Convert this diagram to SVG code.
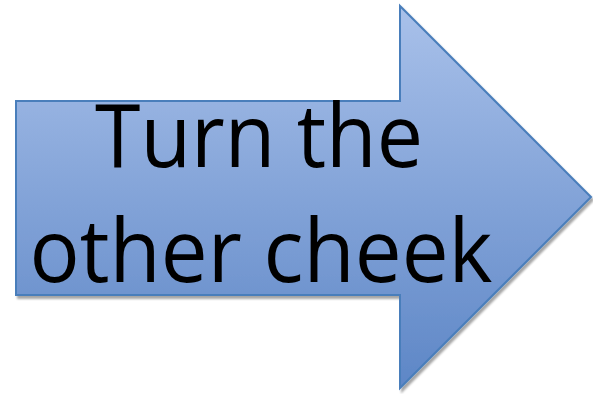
<svg xmlns="http://www.w3.org/2000/svg" width="593" height="394" viewBox="0 0 593 394">
<defs>
<linearGradient id="g" x1="0" y1="5" x2="0" y2="390" gradientUnits="userSpaceOnUse">
<stop offset="0" stop-color="#a9c1ea"/>
<stop offset="1" stop-color="#5d86c6"/>
</linearGradient>
<filter id="sh" x="-5%" y="-5%" width="110%" height="110%">
<feGaussianBlur in="SourceAlpha" stdDeviation="1.2"/>
<feOffset dx="2" dy="3"/>
<feComponentTransfer><feFuncA type="linear" slope="0.35"/></feComponentTransfer>
<feMerge><feMergeNode/><feMergeNode in="SourceGraphic"/></feMerge>
</filter>
</defs>
<style>
.lbl{font-family:"Open Sans","Noto Sans",sans-serif;font-size:88px;fill:#000;text-anchor:middle}
</style>
<g id="arrow">
<path d="M16,101 H400 V6 L591,197 L400,388 V295 H16 Z" fill="url(#g)" stroke="#4a7ebb" stroke-width="2" stroke-linejoin="miter" filter="url(#sh)"/>
<text class="lbl" x="259" y="167" textLength="328" lengthAdjust="spacingAndGlyphs">Turn the</text>
<text class="lbl" x="261" y="282" textLength="463" lengthAdjust="spacingAndGlyphs">other cheek</text>
</g>
</svg>
